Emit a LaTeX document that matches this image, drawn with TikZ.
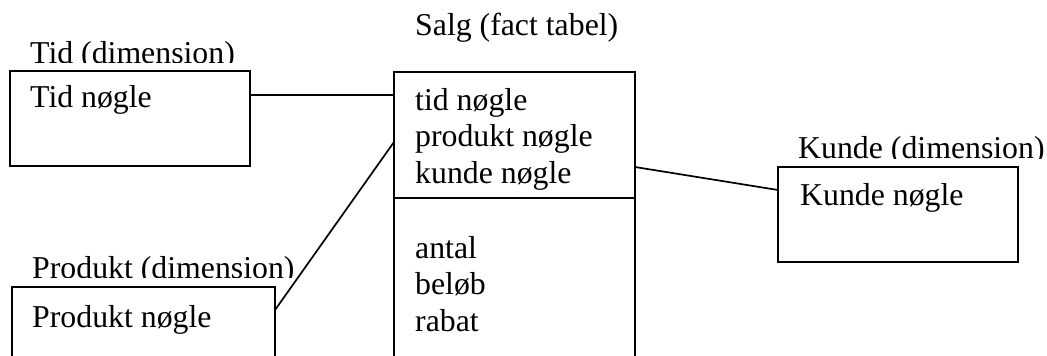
\documentclass[tikz,border=0pt]{standalone}
\usepackage{fontspec}
\setmainfont{Liberation Serif}
\begin{document}
\begin{tikzpicture}[x=1pt,y=-1pt,
  tbl/.style={draw, line width=1.7pt, inner sep=0pt, outer sep=0pt, anchor=north west},
  txt/.style={anchor=base west, inner sep=0pt, font=\fontsize{31.8}{36.5}\selectfont},
  link/.style={line width=1.7pt}]
\clip (0,0) rectangle (1047,356);
\fill[white] (0,0) rectangle (1047,356);

% table boxes
\node[tbl, minimum width=240pt, minimum height=95pt] (tid) at (10,71) {};
\node[tbl, minimum width=241pt, minimum height=310pt] (salg) at (394,72) {};
\node[tbl, minimum width=263pt, minimum height=90pt] (produkt) at (12,287) {};
\node[tbl, minimum width=240pt, minimum height=95pt] (kunde) at (778,167) {};

% key / measure divider of the fact table
\draw[link] ([yshift=-126pt]salg.north west) -- ([yshift=-126pt]salg.north east);

% table titles (bottoms hidden by the boxes below them)
\node[txt] (salglbl) at (415,35) {Salg (fact tabel)};
\begin{scope}
  \clip (0,0) rectangle (1047,62);
  \node[txt] (tidlbl) at (30,63) {Tid (dimension)};
\end{scope}
\begin{scope}
  \clip (0,200) rectangle (1047,277);
  \node[txt] (produktlbl) at (32,278) {Produkt (dimension)};
\end{scope}
\begin{scope}
  \clip (700,100) rectangle (1047,158);
  \node[txt] (kundelbl) at (798,158) {Kunde (dimension)};
\end{scope}

% box contents
\node[txt] (tidkey) at (30,107) {Tid nøgle};
\node[txt] (produktkey) at (32,327) {Produkt nøgle};
\node[txt] (kundekey) at (800,205) {Kunde nøgle};
\node[txt] (fk1) at (415,110) {tid nøgle};
\node[txt] (fk2) at (415,146.5) {produkt nøgle};
\node[txt] (fk3) at (415,183) {kunde nøgle};
\node[txt] (m1) at (415,258) {antal};
\node[txt] (m2) at (415,294.5) {beløb};
\node[txt] (m3) at (415,331) {rabat};

% relations
\draw[link] ([yshift=-24pt]tid.north east) -- ([yshift=-23pt]salg.north west);
\draw[link] ([yshift=-23pt]produkt.north east) -- ([yshift=-70pt]salg.north west);
\draw[link] ([yshift=-95pt]salg.north east) -- ([yshift=-23pt]kunde.north west);
\end{tikzpicture}
\end{document}
